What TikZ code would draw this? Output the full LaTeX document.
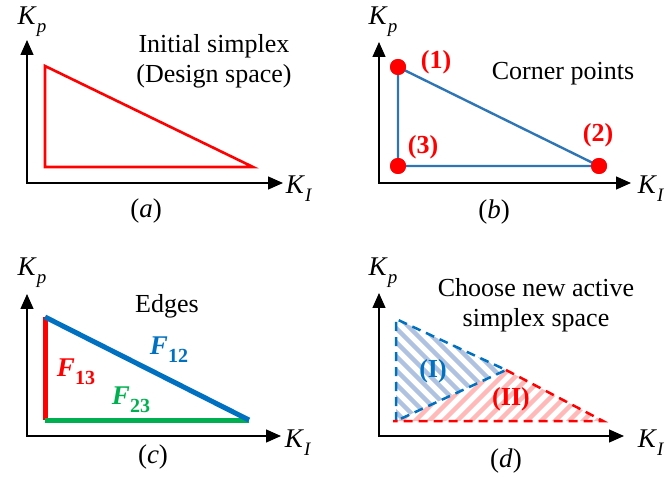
\documentclass[tikz,border=0pt]{standalone}
\usepackage{fontspec}
\setmainfont{Liberation Serif}
\usetikzlibrary{arrows.meta}

\definecolor{edgeblue}{RGB}{46,117,182}
\definecolor{fblue}{RGB}{0,112,192}
\definecolor{fgreen}{RGB}{0,176,80}
\definecolor{hatchblue}{RGB}{175,195,225}
\definecolor{hatchred}{RGB}{255,185,185}

\newcommand{\gain}[1]{\textit{K}\raisebox{-0.3em}{\fontsize{19}{19}\selectfont\textit{#1}}}
\newcommand{\face}[1]{\textbf{\textit{F}}\raisebox{-0.3em}{\fontsize{20}{20}\selectfont\textbf{#1}}}

\tikzset{
  axis/.style={{Triangle[length=15pt,width=13pt]}-{Triangle[length=15pt,width=13pt]}, line width=1.3pt},
  lbl/.style={font=\fontsize{27}{30}\selectfont, inner sep=0pt},
  gainlbl/.style={font=\fontsize{27}{30}\selectfont, inner sep=0pt},
  note/.style={font=\fontsize{26}{30}\selectfont, align=center, inner sep=0pt},
  corner/.style={circle, fill=red, minimum size=16pt, inner sep=0pt},
  num/.style={font=\fontsize{26}{30}\selectfont\bfseries, text=red, inner sep=0pt},
  dashline/.style={dashed, dash pattern=on 9pt off 6pt, line width=2.5pt}
}

\begin{document}
\begin{tikzpicture}[x=1pt,y=-1pt]
  \useasboundingbox (0,0) rectangle (672,478);

  % (a) initial simplex
  \coordinate (oa) at (27,183);
  \coordinate (ya) at (27,40);
  \coordinate (xa) at (283,183);
  \draw [axis] (ya) -- (oa) -- (xa);
  \node [gainlbl] (kpa) at (32,22) {\gain{p}};
  \node [gainlbl] (kia) at (299,189) {\gain{I}};
  \coordinate (a1) at (45,66);
  \coordinate (a2) at (253,167);
  \coordinate (a3) at (45,167);
  \draw [red, line width=2.6pt] (a1) -- (a3) -- (a2) -- cycle;
  \node [note] (ta) at (214,61) {Initial simplex\\(Design space)};
  \node [lbl] (capa) at (146,211) {(\textit{a})};

  % (b) corner points
  \coordinate (ob) at (379,183);
  \coordinate (yb) at (379,42);
  \coordinate (xb) at (631,183);
  \draw [axis] (yb) -- (ob) -- (xb);
  \node [gainlbl] (kpb) at (383,22) {\gain{p}};
  \node [gainlbl] (kib) at (651,189) {\gain{I}};
  \node [corner] (b1) at (398,67) {};
  \node [corner] (b2) at (599,166) {};
  \node [corner] (b3) at (398,166) {};
  \draw [edgeblue, line width=2.4pt] (b1.center) -- (b3.center) -- (b2.center) -- cycle;
  \node [corner] at (b1) {};
  \node [corner] at (b2) {};
  \node [corner] at (b3) {};
  \node [num] (n1) at (436,62) {(1)};
  \node [num] (n2) at (598,135) {(2)};
  \node [num] (n3) at (423,147) {(3)};
  \node [note] (tb) at (563,74) {Corner points};
  \node [lbl] (capb) at (494,212) {(\textit{b})};

  % (c) edges
  \coordinate (oc) at (27,436);
  \coordinate (yc) at (27,294);
  \coordinate (xc) at (281,436);
  \draw [axis] (yc) -- (oc) -- (xc);
  \node [gainlbl] (kpc) at (32,273) {\gain{p}};
  \node [gainlbl] (kic) at (298,443) {\gain{I}};
  \coordinate (c1) at (45,317);
  \coordinate (c2) at (249,420);
  \coordinate (c3) at (45,420);
  \draw [red, line width=5pt] (c3) -- (c1);
  \draw [fgreen, line width=5pt] (c3) -- (c2);
  \draw [fblue, line width=5pt] (c1) -- (c2);
  \node [lbl, text=red] (f13) at (76,372) {\face{13}};
  \node [lbl, text=fblue] (f12) at (169,350) {\face{12}};
  \node [lbl, text=fgreen] (f23) at (131,400) {\face{23}};
  \node [note] (tc) at (167,306) {Edges};
  \node [lbl] (capc) at (153,457) {(\textit{c})};

  % (d) new active simplex
  \coordinate (od) at (379,436);
  \coordinate (yd) at (379,293);
  \coordinate (xd) at (624,436);
  \draw [axis] (yd) -- (od) -- (xd);
  \node [gainlbl] (kpd) at (383,273) {\gain{p}};
  \node [gainlbl] (kid) at (651,443) {\gain{I}};
  \coordinate (d1) at (396,319);
  \coordinate (d2) at (603,421);
  \coordinate (d3) at (396,421);
  \coordinate (dm) at (506,370);
  \begin{scope}
    \clip (d1) -- (dm) -- (d3) -- cycle;
    \foreach \s in {-200,-186,...,200}
      \draw [hatchblue, line width=4.5pt] (396+\s,310) -- (516+\s,430);
  \end{scope}
  \begin{scope}
    \clip (d3) -- (dm) -- (d2) -- cycle;
    \foreach \s in {-200,-186,...,260}
      \draw [hatchred, line width=4.5pt] (396+\s,430) -- (476+\s,350);
  \end{scope}
  \draw [dashline, fblue] (d3) -- (d1) -- (dm) -- cycle;
  \draw [dashline, red] (dm) -- (d2) -- (393,421);
  \node [num, text=fblue] (r1) at (433,371) {(I)};
  \node [num] (r2) at (511,399) {(II)};
  \node [note] (td) at (536,305) {Choose new active\\simplex space};
  \node [lbl] (capd) at (506,461) {(\textit{d})};
\end{tikzpicture}
\end{document}
